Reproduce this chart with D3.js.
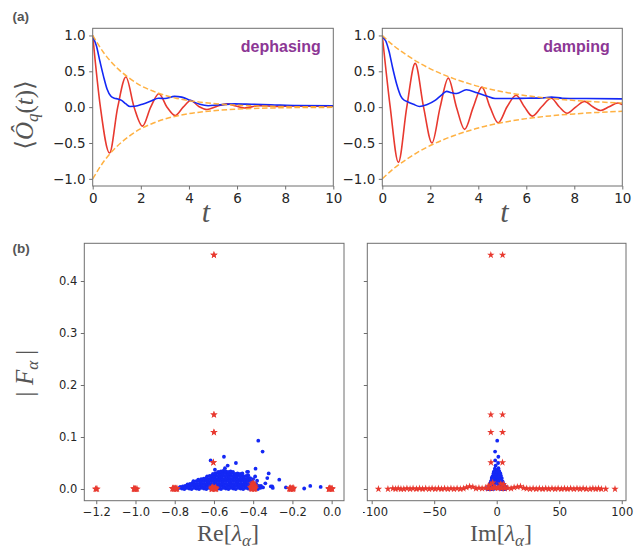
<!DOCTYPE html>
<html>
<head>
<meta charset="utf-8">
<script src="https://cdn.jsdelivr.net/npm/d3@7"></script>
<style>
  html, body { margin: 0; padding: 0; background: #fff; }
  svg { display: block; }
</style>
</head>
<body>
<svg id="fig" width="641" height="550"></svg>
<script>
// ---------- (a) time evolution, points are [t, value] ----------
const timeTicks = [0, 2, 4, 6, 8, 10];
const expTicks = [-1, -0.5, 0, 0.5, 1];

const dephasingRed = [
  [0,1.0],[0.32,0],[0.70,-0.64],[1.04,0],[1.38,0.42],[1.72,0],[2.07,-0.265],[2.41,0],
  [2.75,0.187],[3.09,0],[3.43,-0.116],[3.76,0],[4.08,0.093],[4.41,0.01],[4.75,-0.032],
  [5.15,0.01],[5.6,0.045],[5.95,0.015],[6.3,-0.012],[6.9,0.02],[7.6,0.01],[8.4,0.017],
  [9.2,0.012],[10,0.015]
];
const dephasingBlue = [
  [0,0.98],[0.15,0.86],[0.3,0.64],[0.45,0.43],[0.6,0.25],[0.75,0.155],[0.9,0.125],
  [1.05,0.115],[1.2,0.095],[1.38,0.045],[1.55,0.01],[1.75,0.012],[2.1,0.045],[2.45,0.09],
  [2.73,0.125],[3.0,0.12],[3.4,0.15],[3.7,0.14],[4.05,0.095],[4.45,0.04],[4.8,0.02],
  [5.2,0.03],[5.9,0.045],[6.6,0.04],[7.4,0.033],[8.5,0.022],[10,0.02]
];
const dephasingEnvelope = [
  [0,1],[0.5,0.74],[1,0.55],[1.5,0.41],[2,0.30],[2.5,0.225],[3,0.165],[3.5,0.122],
  [4,0.09],[4.5,0.068],[5,0.05],[6,0.027],[7,0.015],[8,0.008],[9,0.005],[10,0.003]
];

const dampingRed = [
  [0,1.0],[0.33,0],[0.67,-0.77],[1.02,0],[1.37,0.61],[1.72,0],[2.07,-0.50],[2.41,0],
  [2.75,0.405],[3.09,0],[3.43,-0.31],[3.79,0],[4.15,0.28],[4.49,0],[4.83,-0.218],
  [5.2,0.005],[5.58,0.165],[5.92,0.005],[6.25,-0.125],[6.64,0.005],[7.04,0.124],
  [7.37,0.005],[7.7,-0.085],[8.07,0.005],[8.43,0.08],[8.77,0.005],[9.1,-0.046],
  [9.45,0.005],[9.82,0.058],[10,0.035]
];
const dampingBlue = [
  [0,0.98],[0.15,0.92],[0.28,0.78],[0.43,0.55],[0.6,0.32],[0.77,0.155],[0.9,0.1],
  [1.05,0.075],[1.3,0.04],[1.55,0.01],[1.85,0.035],[2.2,0.095],[2.45,0.165],[2.68,0.22],
  [2.9,0.2],[3.1,0.19],[3.5,0.243],[3.95,0.2],[4.35,0.155],[4.7,0.12],[5.2,0.12],
  [6.0,0.125],[6.7,0.13],[7.05,0.14],[7.5,0.125],[8.5,0.12],[10,0.115]
];
const dampingEnvelope = [
  [0,1],[0.5,0.85],[1,0.73],[1.5,0.625],[2,0.535],[2.5,0.46],[3,0.395],[3.5,0.34],
  [4,0.29],[4.5,0.25],[5,0.215],[6,0.16],[7,0.122],[8,0.094],[9,0.073],[10,0.057]
];

// ---------- (b) spectrum, points are [Re λ, Im λ, |F|] ----------
const reTicks = [-1.2, -1.0, -0.8, -0.6, -0.4, -0.2, 0.0];
const imTicks = [-100, -50, 0, 50, 100];
const fTicks = [0, 0.1, 0.2, 0.3, 0.4];

const bluePts = [
  [-0.800,-6.1,0.001],[-0.788,5.4,0.000],[-0.776,-7.2,0.002],[-0.763,3.8,0.001],[-0.751,-4.9,0.000],
  [-0.739,7.5,0.002],[-0.726,-2.6,0.001],[-0.714,6.3,0.000],[-0.701,-5.8,0.002],[-0.689,1.9,0.001],
  [-0.676,-7.7,0.000],[-0.664,4.6,0.002],[-0.651,-3.3,0.001],[-0.639,6.9,0.000],[-0.626,-6.6,0.002],
  [-0.614,2.8,0.001],[-0.601,-4.1,0.000],[-0.589,7.9,0.002],[-0.576,-1.7,0.001],[-0.564,5.1,0.000],
  [-0.551,-7.0,0.002],[-0.539,3.5,0.001],[-0.526,-5.3,0.000],[-0.514,6.0,0.002],[-0.501,-2.2,0.001],
  [-0.489,4.3,0.000],[-0.476,-6.4,0.002],[-0.464,7.3,0.001],[-0.451,-3.7,0.000],[-0.439,2.5,0.002],
  [-0.426,-5.6,0.001],[-0.414,5.7,0.000],[-0.401,-4.4,0.002],[-0.389,3.1,0.001],[-0.376,-6.8,0.000],
  [-0.364,6.6,0.002],
  [-0.772,4.9,0.004],[-0.759,-6.2,0.005],[-0.747,2.7,0.006],[-0.734,-3.9,0.004],[-0.722,6.7,0.005],
  [-0.709,-5.1,0.006],[-0.697,3.6,0.004],[-0.684,-2.4,0.005],[-0.672,5.9,0.006],[-0.659,-6.5,0.004],
  [-0.647,1.6,0.005],[-0.634,-4.3,0.006],[-0.622,6.2,0.004],[-0.609,-2.9,0.005],[-0.597,4.0,0.006],
  [-0.584,-5.7,0.004],[-0.572,2.2,0.005],[-0.559,-3.5,0.006],[-0.547,6.4,0.004],[-0.534,-1.8,0.005],
  [-0.522,4.7,0.006],[-0.509,-6.0,0.004],[-0.497,3.0,0.005],[-0.484,-4.6,0.006],[-0.472,5.3,0.004],
  [-0.459,-2.1,0.005],[-0.447,3.9,0.006],[-0.434,-5.2,0.004],[-0.422,2.6,0.005],[-0.409,-3.4,0.006],
  [-0.397,6.1,0.004],[-0.384,-4.8,0.005],[-0.372,1.4,0.006],
  [-0.735,-4.2,0.009],[-0.722,3.3,0.010],[-0.710,-1.9,0.011],[-0.697,5.2,0.009],[-0.685,-5.4,0.010],
  [-0.672,2.1,0.011],[-0.660,-3.1,0.009],[-0.647,4.6,0.010],[-0.635,-4.7,0.011],[-0.622,1.2,0.009],
  [-0.610,-2.6,0.010],[-0.597,5.0,0.011],[-0.585,-3.8,0.009],[-0.572,2.9,0.010],[-0.560,-5.1,0.011],
  [-0.547,3.7,0.009],[-0.535,-1.4,0.010],[-0.522,4.4,0.011],[-0.510,-4.0,0.009],[-0.497,2.3,0.010],
  [-0.485,-2.8,0.011],[-0.472,5.5,0.009],[-0.460,-4.5,0.010],[-0.447,1.8,0.011],[-0.435,-3.3,0.009],
  [-0.422,4.1,0.010],[-0.410,-2.0,0.011],[-0.397,3.2,0.009],[-0.385,-4.9,0.010],
  [-0.703,2.8,0.014],[-0.690,-3.6,0.015],[-0.678,1.5,0.016],[-0.665,-4.4,0.014],[-0.653,3.9,0.015],
  [-0.640,-2.2,0.016],[-0.628,4.8,0.014],[-0.615,-1.1,0.015],[-0.603,2.6,0.016],[-0.590,-3.9,0.014],
  [-0.578,1.0,0.015],[-0.565,-2.7,0.016],[-0.553,4.2,0.014],[-0.540,-4.6,0.015],[-0.528,2.0,0.016],
  [-0.515,-1.6,0.014],[-0.503,3.5,0.015],[-0.490,-3.0,0.016],[-0.478,4.5,0.014],[-0.465,-2.4,0.015],
  [-0.453,1.3,0.016],[-0.440,-4.1,0.014],[-0.428,3.0,0.015],[-0.415,-1.3,0.016],[-0.403,2.4,0.014],
  [-0.665,-2.5,0.019],[-0.652,3.4,0.020],[-0.640,-3.7,0.021],[-0.627,1.8,0.019],[-0.615,-1.0,0.020],
  [-0.602,4.0,0.021],[-0.590,-2.9,0.019],[-0.577,2.4,0.020],[-0.565,-4.0,0.021],[-0.552,0.9,0.019],
  [-0.540,-1.9,0.020],[-0.527,3.3,0.021],[-0.515,-3.3,0.019],[-0.502,1.6,0.020],[-0.490,-0.7,0.021],
  [-0.477,3.8,0.019],[-0.465,-2.6,0.020],[-0.452,2.1,0.021],[-0.440,-3.5,0.019],[-0.427,1.1,0.020],
  [-0.415,-1.5,0.021],
  [-0.635,2.2,0.024],[-0.622,-2.8,0.025],[-0.610,1.3,0.026],[-0.597,-3.4,0.024],[-0.585,3.1,0.025],
  [-0.572,-1.2,0.026],[-0.560,2.7,0.024],[-0.547,-2.3,0.025],[-0.535,0.6,0.026],[-0.522,-3.0,0.024],
  [-0.510,2.9,0.025],[-0.497,-1.6,0.026],[-0.485,1.9,0.024],[-0.472,-2.5,0.025],[-0.460,3.2,0.026],
  [-0.447,-0.9,0.024],[-0.435,1.5,0.025],[-0.425,-2.0,0.026],
  [-0.605,-1.8,0.029],[-0.592,2.5,0.030],[-0.580,-0.8,0.031],[-0.567,1.7,0.029],[-0.555,-2.6,0.030],
  [-0.542,0.4,0.031],[-0.530,2.3,0.029],[-0.517,-1.4,0.030],[-0.505,1.1,0.031],[-0.492,-2.2,0.029],
  [-0.480,2.0,0.030],[-0.467,-0.5,0.029],[-0.455,1.4,0.030],
  [-0.578,0.8,0.033],[-0.565,-1.5,0.034],[-0.553,1.9,0.035],[-0.540,-0.3,0.034],[-0.528,1.2,0.033],
  [-0.515,-1.9,0.034],[-0.503,0.2,0.033],
  // sparse modes above the bulk
  [-0.374,0.4,0.093],[-0.352,-1.3,0.072],[-0.549,1.3,0.062],[-0.617,-1.2,0.055],[-0.488,1.1,0.050],
  [-0.530,-0.9,0.045],[-0.544,1.4,0.040],[-0.388,-1.5,0.039],[-0.595,0.7,0.037],[-0.431,2.1,0.033],
  [-0.426,-2.3,0.033],[-0.390,1.8,0.024],[-0.328,-2.7,0.021],[-0.680,2.6,0.018],[-0.705,-3.0,0.015],
  [-0.321,2.9,0.030],[-0.267,-3.6,0.018],[-0.338,3.9,0.011],[-0.303,-5.0,0.005],[-0.310,4.4,0.005],
  [-0.360,-4.6,0.006],[-0.233,6.3,0.003],[-0.140,-7.1,0.001],[-0.109,5.0,0.006],[-0.056,-4.2,0.004],
  [-0.300,6.8,0.002],[-0.350,-6.0,0.003],[-0.380,3.5,0.016],[-0.400,-2.8,0.019]
];

const redPts = [
  // leading pairs
  [-0.600,-4.7,0.450],[-0.600,4.7,0.450],
  [-0.600,-4.7,0.143],[-0.600,4.7,0.143],
  [-0.600,-4.7,0.109],[-0.600,4.7,0.109],
  [-0.603,-4.6,0.051],[-0.603,4.6,0.051],
  // near the centre
  [-0.400,-3.2,0.012],[-0.406,3.3,0.010],[-0.394,-5.1,0.008],[-0.401,5.3,0.009],[-0.408,-6.6,0.006],
  [-0.392,6.5,0.005],[-0.609,-2.4,0.004],[-0.593,2.6,0.003],[-0.404,-1.2,0.003],[-0.396,0.9,0.002],
  // far negative frequencies
  [-1.200,-94.6,0.000],[-1.000,-87.0,0.000],[-0.806,-83.1,0.001],[-1.007,-80.9,0.000],[-0.793,-78.8,0.001],
  [-0.610,-76.6,0.000],[-1.196,-74.3,0.000],
  // dense band
  [-0.811,-71.8,0.001],[-0.592,-69.3,0.000],[-0.409,-66.9,0.001],[-0.213,-64.2,0.000],[-0.012,-61.7,0.001],
  [-0.992,-59.3,0.000],[-0.606,-56.8,0.001],[-0.393,-54.1,0.000],[-0.198,-51.7,0.001],[-0.790,-49.2,0.000],
  [-0.004,-46.6,0.001],[-0.612,-44.2,0.000],[-0.401,-41.7,0.001],[-0.207,-39.1,0.000],[-0.801,-36.6,0.001],
  [-0.015,-34.2,0.000],[-0.389,-31.7,0.001],[-0.598,-29.1,0.000],[-0.216,-26.6,0.001],[-0.411,-24.2,0.003],
  [-0.398,-21.7,0.005],[-0.405,-19.1,0.004],[-0.589,-16.6,0.001],[-0.193,-14.2,0.002],[-0.807,-11.7,0.001],
  [-0.601,-9.1,0.002],[0.002,-6.7,0.001],[-0.209,-4.2,0.001],[-0.594,-1.6,0.002],[-0.607,1.3,0.002],
  [-0.202,3.9,0.001],[-0.009,6.4,0.001],[-0.612,8.9,0.002],[-0.796,11.5,0.001],[-0.413,13.9,0.003],
  [-0.391,16.5,0.004],[-0.402,19.0,0.005],[-0.211,21.5,0.002],[-0.597,24.0,0.001],[-1.005,26.6,0.000],
  [-0.013,29.1,0.001],[-0.407,31.6,0.000],[-0.812,34.1,0.001],[-0.196,36.7,0.000],[-0.603,39.2,0.001],
  [-0.001,41.6,0.000],[-0.395,44.2,0.001],[-0.997,46.7,0.000],[-0.214,49.1,0.001],[-0.591,51.7,0.000],
  [-0.798,54.2,0.001],[-0.011,56.6,0.000],[-0.403,59.1,0.001],[-0.205,61.7,0.000],[-0.609,64.2,0.001],
  [-1.002,66.6,0.000],[-0.788,69.1,0.001],[-0.006,71.7,0.000],
  // far positive frequencies
  [-0.397,74.6,0.000],[-1.009,76.9,0.001],[-0.803,79.2,0.000],[-0.200,81.4,0.001],[-1.204,83.7,0.000],
  [0.003,87.2,0.000],[-0.795,94.6,0.000]
];

// ---------- styling ----------
const svg = d3.select("#fig");
const SERIF = "'Liberation Serif','DejaVu Serif',serif";
const SANS = "'DejaVu Sans','Liberation Sans',sans-serif";
const FRAME = "#6e6e6e";
const TICK_TEXT = "#262626";
const LABEL = "#555555";
const RED = "#e8392f";
const BLUE = "#1428f5";
const ORANGE = "#ffa82e";
const PURPLE = "#8c3795";

function makePanel(x0, x1, y0, y1, xDom, yDom) {
  return {
    x0, x1, y0, y1,
    x: d3.scaleLinear().domain(xDom).range([x0, x1]),
    y: d3.scaleLinear().domain(yDom).range([y1, y0])
  };
}

let clipId = 0;
function clipFor(p) {
  const id = "clip" + (clipId++);
  svg.append("clipPath").attr("id", id)
    .append("rect").attr("x", p.x0).attr("y", p.y0)
    .attr("width", p.x1 - p.x0).attr("height", p.y1 - p.y0);
  return "url(#" + id + ")";
}

function drawAxes(p, xt, yt, xf, yf, fs, xClip) {
  const g = svg.append("g");
  const ax = g.append("g").attr("transform", `translate(0,${p.y1})`)
    .call(d3.axisBottom(p.x).tickValues(xt).tickFormat(xf).tickSize(3.5).tickPadding(3.5));
  const ay = g.append("g").attr("transform", `translate(${p.x0},0)`)
    .call(d3.axisLeft(p.y).tickValues(yt).tickFormat(yf).tickSize(3.5).tickPadding(3.5));
  [ax, ay].forEach(a => {
    a.select(".domain").remove();
    a.selectAll("line").attr("stroke", FRAME).attr("stroke-width", 1);
    a.selectAll("text").attr("fill", TICK_TEXT)
      .style("font-family", SANS).style("font-size", fs + "px");
  });
  if (xClip) {
    const id = "clip" + (clipId++);
    svg.append("clipPath").attr("id", id).append("rect")
      .attr("x", xClip).attr("y", 0).attr("width", 641 - xClip).attr("height", 550);
    ax.attr("clip-path", "url(#" + id + ")");
  }
}

function drawFrame(p) {
  svg.append("rect").attr("x", p.x0).attr("y", p.y0)
    .attr("width", p.x1 - p.x0).attr("height", p.y1 - p.y0)
    .attr("fill", "none").attr("stroke", FRAME).attr("stroke-width", 1);
}

// ---------- (a) panels ----------
const fmt1 = d3.format(".1f");
const fmtInt = d3.format("d");

function timePanel(p, red, blue, env, tag) {
  const clip = clipFor(p);
  const g = svg.append("g").attr("clip-path", clip);
  const line = d3.line().x(d => p.x(d[0])).y(d => p.y(d[1])).curve(d3.curveMonotoneX);
  g.append("path").attr("d", line(red)).attr("fill", "none")
    .attr("stroke", RED).attr("stroke-width", 1.6);
  g.append("path").attr("d", line(blue)).attr("fill", "none")
    .attr("stroke", BLUE).attr("stroke-width", 1.6);
  [env, env.map(d => [d[0], -d[1]])].forEach(e => {
    g.append("path").attr("d", line(e)).attr("fill", "none")
      .attr("stroke", ORANGE).attr("stroke-width", 1.5)
      .attr("stroke-dasharray", "5.5,2.6").attr("opacity", 0.9);
  });
  drawAxes(p, timeTicks, expTicks, fmtInt, fmt1, 13.5);
  drawFrame(p);
  svg.append("text").attr("x", p.x1 - 12.5).attr("y", 51.5)
    .attr("text-anchor", "end").attr("fill", PURPLE)
    .style("font-family", "'Liberation Sans',Arial,sans-serif")
    .style("font-weight", "bold").style("font-size", "16px").text(tag);
}

const pDeph = makePanel(92.7, 333.3, 28.3, 186, [0, 10], [-1.1, 1.1]);
const pDamp = makePanel(382.3, 622.3, 28.3, 186, [0, 10], [-1.1, 1.1]);
timePanel(pDeph, dephasingRed, dephasingBlue, dephasingEnvelope, "dephasing");
timePanel(pDamp, dampingRed, dampingBlue, dampingEnvelope, "damping");

// ---------- (b) panels ----------
const pRe = makePanel(84.3, 344, 243.3, 500.7, [-1.261, 0.063], [-0.0225, 0.4725]);
const pIm = makePanel(367.3, 626, 243.3, 500.7, [-103.5, 103.4], [-0.0225, 0.4725]);
const star = d3.symbol().type(d3.symbolStar).size(17);

function scatterPanel(p, key, xt, xf, yf, xClip) {
  const clip = clipFor(p);
  const g = svg.append("g").attr("clip-path", clip);
  g.selectAll("circle.b").data(bluePts).join("circle").attr("class", "b")
    .attr("cx", d => p.x(d[key])).attr("cy", d => p.y(d[2]))
    .attr("r", 1.9).attr("fill", BLUE);
  g.selectAll("path.r").data(redPts).join("path").attr("class", "r")
    .attr("transform", d => `translate(${p.x(d[key])},${p.y(d[2])})`)
    .attr("d", star).attr("fill", RED);
  drawAxes(p, xt, fTicks, xf, yf, 11.5, xClip);
  drawFrame(p);
}
scatterPanel(pRe, 0, reTicks, fmt1, fmt1, null);
scatterPanel(pIm, 1, imTicks, fmtInt, () => "", 363);

// ---------- text labels ----------
function label(x, y, size) {
  return svg.append("text").attr("x", x).attr("y", y).attr("text-anchor", "middle")
    .attr("fill", LABEL).style("font-family", SERIF).style("font-size", size + "px");
}
function rotLabel(x, y, size) {
  return svg.append("text").attr("transform", `translate(${x},${y}) rotate(-90)`)
    .attr("text-anchor", "middle").attr("fill", LABEL)
    .style("font-family", SERIF).style("font-size", size + "px");
}

svg.append("text").attr("x", 12.5).attr("y", 21.3).attr("fill", "#555")
  .style("font-family", "'Liberation Sans',Arial,sans-serif").style("font-weight", "bold")
  .style("font-size", "13.5px").text("(a)");
svg.append("text").attr("x", 12.5).attr("y", 253).attr("fill", "#555")
  .style("font-family", "'Liberation Sans',Arial,sans-serif").style("font-weight", "bold")
  .style("font-size", "13.5px").text("(b)");

// ⟨Ô_q(t)⟩
const yA = rotLabel(33, 115, 25);
yA.append("tspan").text("⟨");
yA.append("tspan").style("font-style", "italic").text("Ô");
yA.append("tspan").style("font-style", "italic").style("font-size", "17px").attr("dy", 5).text("q");
yA.append("tspan").attr("dy", -5).text("(");
yA.append("tspan").style("font-style", "italic").text("t");
yA.append("tspan").text(")⟩");

// t axis labels
label(206, 222, 30).style("font-style", "italic").text("t");
label(504.5, 222, 30).style("font-style", "italic").text("t");

// |F_α|
const yB = rotLabel(33, 373, 25);
yB.append("tspan").text("|\u2005");
yB.append("tspan").style("font-style", "italic").text("F");
yB.append("tspan").style("font-style", "italic").style("font-size", "17px").attr("dy", 5).text("α");
yB.append("tspan").attr("dy", -5).text("\u2005|");

// Re[λ_α], Im[λ_α]
[["Re", 228, 541], ["Im", 501, 541]].forEach(([pre, x, y]) => {
  const t = label(x, y, 24);
  t.append("tspan").text(pre + "[");
  t.append("tspan").style("font-style", "italic").text("λ");
  t.append("tspan").style("font-style", "italic").style("font-size", "17px").attr("dy", 5).text("α");
  t.append("tspan").attr("dy", -5).text("]");
});
</script>
</body>
</html>
